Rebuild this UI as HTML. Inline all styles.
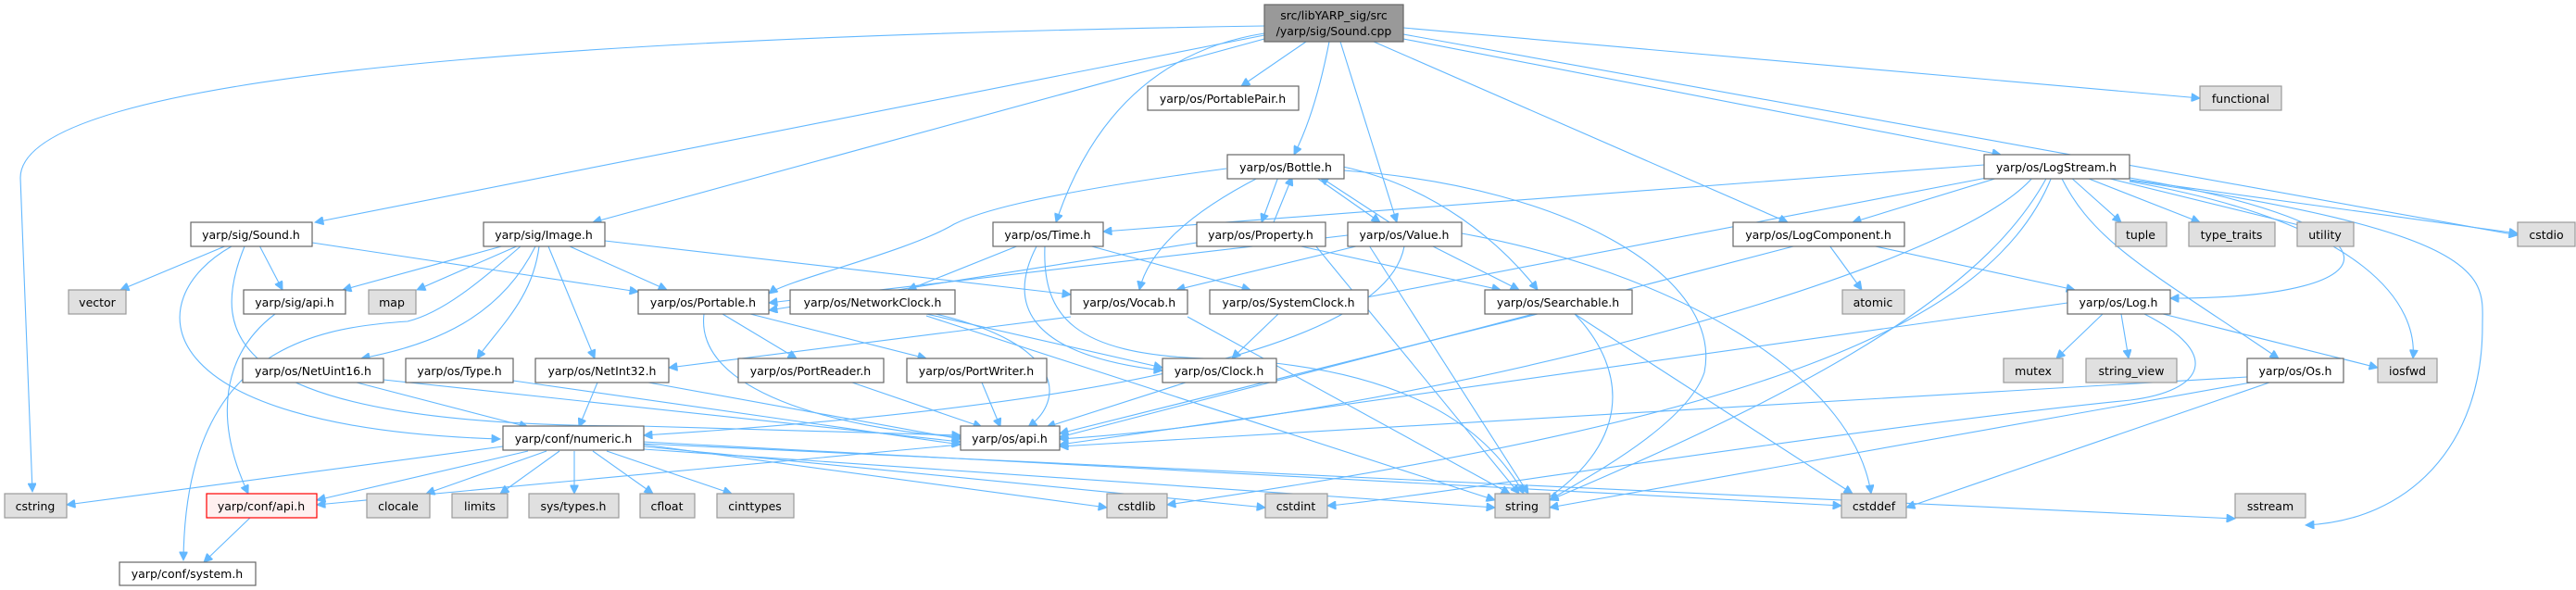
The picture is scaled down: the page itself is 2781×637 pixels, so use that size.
<!DOCTYPE html>
<html><head><meta charset="utf-8"><style>
html,body{margin:0;padding:0;background:#fff}
svg{display:block}
text{font-family:"DejaVu Sans","Liberation Sans",sans-serif;font-size:12.5px;fill:#000;text-anchor:middle}
.n{fill:#fff;stroke:#666;stroke-width:1.2}
.g{fill:#e0e0e0;stroke:#999;stroke-width:1.2}
.e path{fill:none;stroke:#63b8ff;stroke-width:1.1}
</style></head><body>
<svg width="2781" height="637" viewBox="0 0 2781 637" xmlns="http://www.w3.org/2000/svg">
<defs><marker id="a" viewBox="0 0 10 10" refX="10" refY="5" markerWidth="11" markerHeight="9" markerUnits="userSpaceOnUse" orient="auto"><path d="M0,0 L10,5 L0,10 z" fill="#63b8ff" stroke="#63b8ff"/></marker></defs>
<g class="e" transform="translate(0,2)">
<path marker-end="url(#a)" d="M1365,26 C600,38 22,80 22,190 L35,529"/>
<path marker-end="url(#a)" d="M1365,36 L340,238"/>
<path marker-end="url(#a)" d="M1365,40 L640,238"/>
<path marker-end="url(#a)" d="M1410,43 L1340,91"/>
<path marker-end="url(#a)" d="M1435,43 Q1420,120 1397,165"/>
<path marker-end="url(#a)" d="M1365,34 Q1200,60 1140,238"/>
<path marker-end="url(#a)" d="M1447,43 L1508,238"/>
<path marker-end="url(#a)" d="M1483,43 L1930,238"/>
<path marker-end="url(#a)" d="M1515,40 L2160,165"/>
<path marker-end="url(#a)" d="M1515,28 L2375,104"/>
<path marker-end="url(#a)" d="M1515,35 L2718,252"/>
<path marker-end="url(#a)" d="M245,263 L130,311"/>
<path marker-end="url(#a)" d="M280,263 L305,311"/>
<path marker-end="url(#a)" d="M337,260 L689,313"/>
<path marker-end="url(#a)" d="M250,264 C150,320 150,460 540,472"/>
<path marker-end="url(#a)" d="M264,264 C225,360 240,458 690,458 L1037,468"/>
<path marker-end="url(#a)" d="M545,263 L370,311"/>
<path marker-end="url(#a)" d="M560,263 L450,311"/>
<path marker-end="url(#a)" d="M562,264 C520,300 480,335 440,345 C330,352 200,380 198,603"/>
<path marker-end="url(#a)" d="M578,264 C540,340 470,370 390,385"/>
<path marker-end="url(#a)" d="M582,264 C575,320 540,350 515,385"/>
<path marker-end="url(#a)" d="M592,264 L642,385"/>
<path marker-end="url(#a)" d="M615,264 L720,311"/>
<path marker-end="url(#a)" d="M653,258 L1156,316"/>
<path marker-end="url(#a)" d="M297,337 C240,380 230,450 268,531"/>
<path marker-end="url(#a)" d="M385,411 L570,459"/>
<path marker-end="url(#a)" d="M414,408 L1037,475"/>
<path marker-end="url(#a)" d="M554,409 L1037,478"/>
<path marker-end="url(#a)" d="M645,411 L625,459"/>
<path marker-end="url(#a)" d="M700,411 L1037,472"/>
<path marker-end="url(#a)" d="M543,480 L72,543"/>
<path marker-end="url(#a)" d="M570,485 L342,538"/>
<path marker-end="url(#a)" d="M590,485 L460,531"/>
<path marker-end="url(#a)" d="M604,485 L540,531"/>
<path marker-end="url(#a)" d="M620,485 L620,531"/>
<path marker-end="url(#a)" d="M640,485 L705,531"/>
<path marker-end="url(#a)" d="M655,485 L790,531"/>
<path marker-end="url(#a)" d="M695,478 L1195,546"/>
<path marker-end="url(#a)" d="M695,480 L1366,546"/>
<path marker-end="url(#a)" d="M695,483 L1614,546"/>
<path marker-end="url(#a)" d="M695,475 L1988,544"/>
<path marker-end="url(#a)" d="M695,477 L2413,558"/>
<path marker-end="url(#a)" d="M270,557 L220,605"/>
<path marker-end="url(#a)" d="M1375,238 L1395,189"/>
<path marker-end="url(#a)" d="M1292,260 L830,333"/>
<path marker-end="url(#a)" d="M1400,263 L1620,311"/>
<path marker-end="url(#a)" d="M1420,263 L1640,531"/>
<path marker-end="url(#a)" d="M1380,189 L1362,238"/>
<path marker-end="url(#a)" d="M1420,189 L1490,238"/>
<path marker-end="url(#a)" d="M1500,238 L1425,189"/>
<path marker-end="url(#a)" d="M1324,180 C1100,210 1050,230 1030,240 C980,270 850,300 830,315"/>
<path marker-end="url(#a)" d="M1360,189 C1280,230 1240,270 1230,311"/>
<path marker-end="url(#a)" d="M1450,178 C1550,200 1620,260 1660,311"/>
<path marker-end="url(#a)" d="M1450,182 C1700,200 1860,300 1840,400 C1820,460 1700,520 1673,538"/>
<path marker-end="url(#a)" d="M1100,263 L980,311"/>
<path marker-end="url(#a)" d="M1175,263 L1350,311"/>
<path marker-end="url(#a)" d="M1119,264 C1090,320 1100,380 1255,398"/>
<path marker-end="url(#a)" d="M1128,264 C1125,340 1160,380 1300,385 C1500,390 1600,450 1645,531"/>
<path marker-end="url(#a)" d="M1455,252 L830,325"/>
<path marker-end="url(#a)" d="M1468,263 L1270,311"/>
<path marker-end="url(#a)" d="M1545,263 L1640,311"/>
<path marker-end="url(#a)" d="M1478,263 L1650,531"/>
<path marker-end="url(#a)" d="M1578,250 C1800,290 2000,400 2020,531"/>
<path marker-end="url(#a)" d="M1516,264 C1500,350 1300,430 695,468"/>
<path marker-end="url(#a)" d="M780,337 L860,385"/>
<path marker-end="url(#a)" d="M810,337 L1000,385"/>
<path marker-end="url(#a)" d="M760,337 C750,420 900,460 1037,470"/>
<path marker-end="url(#a)" d="M1000,337 L1255,395"/>
<path marker-end="url(#a)" d="M1010,337 C1150,370 1150,430 1110,459"/>
<path marker-end="url(#a)" d="M1000,339 L1614,538"/>
<path marker-end="url(#a)" d="M1156,340 L722,395"/>
<path marker-end="url(#a)" d="M1282,340 L1630,531"/>
<path marker-end="url(#a)" d="M1380,337 L1330,385"/>
<path marker-end="url(#a)" d="M920,411 L1060,459"/>
<path marker-end="url(#a)" d="M1060,411 L1080,459"/>
<path marker-end="url(#a)" d="M1280,411 L1130,459"/>
<path marker-end="url(#a)" d="M1037,478 L342,543"/>
<path marker-end="url(#a)" d="M1660,337 L1144,466"/>
<path marker-end="url(#a)" d="M1700,337 C1760,400 1760,480 1660,543"/>
<path marker-end="url(#a)" d="M1700,337 L2000,531"/>
<path marker-end="url(#a)" d="M1975,263 L2010,311"/>
<path marker-end="url(#a)" d="M2020,263 L2240,311"/>
<path marker-end="url(#a)" d="M1940,263 L1144,470"/>
<path marker-end="url(#a)" d="M2142,176 L1191,248"/>
<path marker-end="url(#a)" d="M2160,189 L2000,238"/>
<path marker-end="url(#a)" d="M2150,189 L1460,322"/>
<path marker-end="url(#a)" d="M2299,190 C2600,240 2600,320 2343,320"/>
<path marker-end="url(#a)" d="M2225,189 C2260,260 2320,290 2460,385"/>
<path marker-end="url(#a)" d="M2235,189 L2290,238"/>
<path marker-end="url(#a)" d="M2250,189 L2375,238"/>
<path marker-end="url(#a)" d="M2270,189 L2490,243"/>
<path marker-end="url(#a)" d="M2299,192 L2718,250"/>
<path marker-end="url(#a)" d="M2299,194 C2560,240 2610,330 2605,385"/>
<path marker-end="url(#a)" d="M2299,193 C2700,250 2680,300 2680,350 C2680,480 2600,560 2489,565"/>
<path marker-end="url(#a)" d="M2210,189 C2150,300 2000,400 1673,538"/>
<path marker-end="url(#a)" d="M2195,189 C2100,300 1500,450 1144,472"/>
<path marker-end="url(#a)" d="M2215,189 C2150,350 1900,450 1260,543"/>
<path marker-end="url(#a)" d="M2270,337 L2220,385"/>
<path marker-end="url(#a)" d="M2290,337 L2298,385"/>
<path marker-end="url(#a)" d="M2335,337 L2567,395"/>
<path marker-end="url(#a)" d="M2232,325 L1144,478"/>
<path marker-end="url(#a)" d="M2315,337 C2400,380 2380,420 2300,430 C2000,460 1500,540 1433,544"/>
<path marker-end="url(#a)" d="M2426,405 L1144,480"/>
<path marker-end="url(#a)" d="M2430,411 L1673,546"/>
<path marker-end="url(#a)" d="M2450,411 L2058,546"/>
</g>
<rect x="1365" y="5" width="150" height="40" fill="#999" stroke="#666" stroke-width="1.2"/>
<text x="1440" y="21">src/libYARP_sig/src</text><text x="1440" y="38">/yarp/sig/Sound.cpp</text>
<g>
<rect class="n" x="1239" y="93" width="163" height="26"/><text x="1320" y="111">yarp/os/PortablePair.h</text>
<rect class="g" x="2375" y="93" width="88" height="26"/><text x="2419" y="111">functional</text>
<rect class="n" x="1325" y="167" width="126" height="26"/><text x="1388" y="185">yarp/os/Bottle.h</text>
<rect class="n" x="2142" y="167" width="157" height="26"/><text x="2220" y="185">yarp/os/LogStream.h</text>
<rect class="n" x="206" y="240" width="131" height="26"/><text x="271" y="258">yarp/sig/Sound.h</text>
<rect class="n" x="522" y="240" width="131" height="26"/><text x="587" y="258">yarp/sig/Image.h</text>
<rect class="n" x="1072" y="240" width="119" height="26"/><text x="1131" y="258">yarp/os/Time.h</text>
<rect class="n" x="1292" y="240" width="139" height="26"/><text x="1361" y="258">yarp/os/Property.h</text>
<rect class="n" x="1455" y="240" width="123" height="26"/><text x="1516" y="258">yarp/os/Value.h</text>
<rect class="n" x="1871" y="240" width="185" height="26"/><text x="1963" y="258">yarp/os/LogComponent.h</text>
<rect class="g" x="2284" y="240" width="55" height="26"/><text x="2311" y="258">tuple</text>
<rect class="g" x="2363" y="240" width="93" height="26"/><text x="2409" y="258">type_traits</text>
<rect class="g" x="2480" y="240" width="61" height="26"/><text x="2510" y="258">utility</text>
<rect class="g" x="2718" y="240" width="62" height="26"/><text x="2749" y="258">cstdio</text>
<rect class="g" x="74" y="313" width="62" height="26"/><text x="105" y="331">vector</text>
<rect class="n" x="263" y="313" width="110" height="26"/><text x="318" y="331">yarp/sig/api.h</text>
<rect class="g" x="398" y="313" width="51" height="26"/><text x="423" y="331">map</text>
<rect class="n" x="689" y="313" width="141" height="26"/><text x="759" y="331">yarp/os/Portable.h</text>
<rect class="n" x="853" y="313" width="178" height="26"/><text x="942" y="331">yarp/os/NetworkClock.h</text>
<rect class="n" x="1156" y="313" width="126" height="26"/><text x="1219" y="331">yarp/os/Vocab.h</text>
<rect class="n" x="1306" y="313" width="171" height="26"/><text x="1391" y="331">yarp/os/SystemClock.h</text>
<rect class="n" x="1603" y="313" width="159" height="26"/><text x="1682" y="331">yarp/os/Searchable.h</text>
<rect class="g" x="1989" y="313" width="67" height="26"/><text x="2022" y="331">atomic</text>
<rect class="n" x="2232" y="313" width="111" height="26"/><text x="2287" y="331">yarp/os/Log.h</text>
<rect class="n" x="262" y="387" width="152" height="26"/><text x="338" y="405">yarp/os/NetUint16.h</text>
<rect class="n" x="438" y="387" width="116" height="26"/><text x="496" y="405">yarp/os/Type.h</text>
<rect class="n" x="578" y="387" width="144" height="26"/><text x="650" y="405">yarp/os/NetInt32.h</text>
<rect class="n" x="797" y="387" width="157" height="26"/><text x="875" y="405">yarp/os/PortReader.h</text>
<rect class="n" x="979" y="387" width="151" height="26"/><text x="1054" y="405">yarp/os/PortWriter.h</text>
<rect class="n" x="1255" y="387" width="123" height="26"/><text x="1316" y="405">yarp/os/Clock.h</text>
<rect class="g" x="2163" y="387" width="64" height="26"/><text x="2195" y="405">mutex</text>
<rect class="g" x="2252" y="387" width="98" height="26"/><text x="2301" y="405">string_view</text>
<rect class="n" x="2426" y="387" width="104" height="26"/><text x="2478" y="405">yarp/os/Os.h</text>
<rect class="g" x="2567" y="387" width="64" height="26"/><text x="2599" y="405">iosfwd</text>
<rect class="n" x="543" y="460" width="152" height="26"/><text x="619" y="478">yarp/conf/numeric.h</text>
<rect class="n" x="1037" y="460" width="107" height="26"/><text x="1090" y="478">yarp/os/api.h</text>
<rect class="g" x="5" y="533" width="67" height="26"/><text x="38" y="551">cstring</text>
<rect x="223" y="533" width="119" height="26" fill="#fff0f0" stroke="#f00" stroke-width="1.2"/><text x="282" y="551">yarp/conf/api.h</text>
<rect class="g" x="396" y="533" width="68" height="26"/><text x="430" y="551">clocale</text>
<rect class="g" x="488" y="533" width="60" height="26"/><text x="518" y="551">limits</text>
<rect class="g" x="571" y="533" width="97" height="26"/><text x="619" y="551">sys/types.h</text>
<rect class="g" x="691" y="533" width="59" height="26"/><text x="720" y="551">cfloat</text>
<rect class="g" x="774" y="533" width="83" height="26"/><text x="815" y="551">cinttypes</text>
<rect class="g" x="1195" y="533" width="65" height="26"/><text x="1227" y="551">cstdlib</text>
<rect class="g" x="1366" y="533" width="67" height="26"/><text x="1399" y="551">cstdint</text>
<rect class="g" x="1614" y="533" width="59" height="26"/><text x="1643" y="551">string</text>
<rect class="g" x="1988" y="533" width="70" height="26"/><text x="2023" y="551">cstddef</text>
<rect class="g" x="2413" y="533" width="76" height="26"/><text x="2451" y="551">sstream</text>
<rect class="n" x="129" y="607" width="147" height="25"/><text x="202" y="624">yarp/conf/system.h</text>
</g>
</svg>
</body></html>
